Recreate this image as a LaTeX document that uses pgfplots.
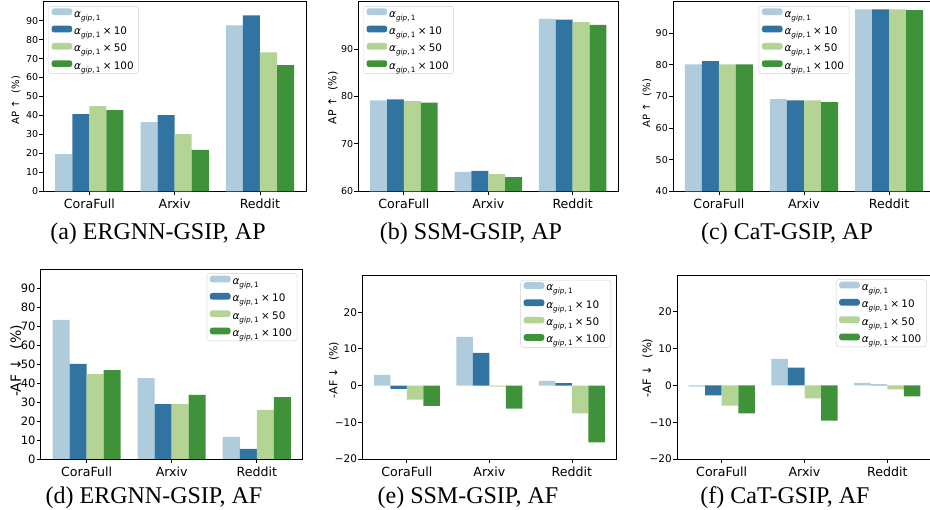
\documentclass[border=0pt]{standalone}
\usepackage{fontspec}
\setmainfont{Liberation Serif}
\newfontfamily\dv{DejaVu Sans}
\usepackage{pgfplots}
\pgfplotsset{compat=1.18}
\definecolor{c1}{HTML}{AECCDC}
\definecolor{c2}{HTML}{3274A1}
\definecolor{c3}{HTML}{B3D495}
\definecolor{c4}{HTML}{40923A}
\newcommand\fs[1]{\fontsize{#1}{#1}\selectfont}
\newcommand\ag{{\itshape α}\raisebox{-0.28em}{\fs{7.3}\itshape gip\upshape,\,1}}
\newcommand\tm{\hspace{0.22em}×\hspace{0.22em}}
\pgfplotsset{
  gsip/.style={
    scale only axis, anchor=north west,
    ybar, bar width=0.2,
    xmin=-0.54, xmax=2.54,
    xtick={0,1,2}, xticklabels={CoraFull,Arxiv,Reddit},
    xticklabel style={font=\dv\fs{12.6}},
    xtick pos=bottom, ytick pos=left, tick align=outside,
    major tick length=4pt,
    every tick/.style={black, line width=0.8pt},
    axis line style={line width=0.8pt, black},
    clip=true,
    legend cell align=left,
    legend image code/.code={\fill[##1] (0pt,-0.55pt) rectangle (20.7pt,6.15pt);},
    legend style={font=\dv\fs{10.4}, draw=black!18, rounded corners=2.5pt,
      inner xsep=3pt, inner ysep=2pt, row sep=6pt,
      nodes={inner xsep=2pt, inner ysep=0pt, text height=7.8pt, text depth=2.5pt}},
  },
  yt/.style={yticklabel style={font=\dv\fs{#1}, inner xsep=1pt}},
  ul/.style={legend style={at={(0,1)}, anchor=north west, xshift=5pt, yshift=-4.5pt}},
  ur/.style={legend style={at={(1,1)}, anchor=north east, xshift=-5.5pt, yshift=-4.5pt}},
  uc/.style={legend style={at={(0.5,1)}, anchor=north, yshift=-4.5pt}},
}
\begin{document}
\begin{tikzpicture}[x=1pt,y=1pt]
\useasboundingbox (0,0) rectangle (930,-510);
% (a)
\begin{axis}[gsip, ul, yt=9.5, at={(43.3pt,-1.7pt)}, width=262.7pt, height=189.6pt,
  ymin=0, ymax=100, ytick={0,10,...,90},
  yticklabels={0,10,20,30,40,50,60,70,80,90}]
\addplot[fill=c1, draw=none, bar shift=-0.3] coordinates {(0,19.6) (1,36.5) (2,87.5)};
\addplot[fill=c2, draw=none, bar shift=-0.1] coordinates {(0,40.7) (1,40.2) (2,92.8)};
\addplot[fill=c3, draw=none, bar shift=0.1] coordinates {(0,44.9) (1,30.2) (2,73.3)};
\addplot[fill=c4, draw=none, bar shift=0.3] coordinates {(0,42.8) (1,21.8) (2,66.5)};
\legend{\ag, \ag\tm10, \ag\tm50, \ag\tm100}
\end{axis}
% (b)
\begin{axis}[gsip, ul, yt=9.5, at={(358.3pt,-1.7pt)}, width=260pt, height=189.6pt,
  ymin=60, ymax=100, ytick={60,70,80,90},
  yticklabels={60,70,80,90}]
\addplot[fill=c1, draw=none, bar shift=-0.3] coordinates {(0,79.2) (1,64.1) (2,96.4)};
\addplot[fill=c2, draw=none, bar shift=-0.1] coordinates {(0,79.4) (1,64.3) (2,96.2)};
\addplot[fill=c3, draw=none, bar shift=0.1] coordinates {(0,79.0) (1,63.6) (2,95.7)};
\addplot[fill=c4, draw=none, bar shift=0.3] coordinates {(0,78.7) (1,63.0) (2,95.1)};
\legend{\ag, \ag\tm10, \ag\tm50, \ag\tm100}
\end{axis}
% (c)
\begin{axis}[gsip, uc, yt=9.5, at={(673pt,-1.7pt)}, width=262pt, height=189.6pt,
  ymin=40, ymax=100, ytick={40,50,...,90},
  yticklabels={40,50,60,70,80,90}]
\addplot[fill=c1, draw=none, bar shift=-0.3] coordinates {(0,80.2) (1,69.2) (2,97.6)};
\addplot[fill=c2, draw=none, bar shift=-0.1] coordinates {(0,81.2) (1,68.8) (2,97.6)};
\addplot[fill=c3, draw=none, bar shift=0.1] coordinates {(0,80.2) (1,68.8) (2,97.6)};
\addplot[fill=c4, draw=none, bar shift=0.3] coordinates {(0,80.2) (1,68.2) (2,97.3)};
\legend{\ag, \ag\tm10, \ag\tm50, \ag\tm100}
\end{axis}
% (d)
\begin{axis}[gsip, ur, yt=11.5, at={(40.7pt,-269pt)}, width=262pt, height=190pt,
  ymin=0, ymax=100, ytick={0,10,...,90},
  yticklabels={0,10,20,30,40,50,60,70,80,90}]
\addplot[fill=c1, draw=none, bar shift=-0.3] coordinates {(0,73.2) (1,42.6) (2,11.6)};
\addplot[fill=c2, draw=none, bar shift=-0.1] coordinates {(0,50.0) (1,28.9) (2,5.3)};
\addplot[fill=c3, draw=none, bar shift=0.1] coordinates {(0,44.7) (1,28.9) (2,25.8)};
\addplot[fill=c4, draw=none, bar shift=0.3] coordinates {(0,46.8) (1,33.7) (2,32.6)};
\legend{\ag, \ag\tm10, \ag\tm50, \ag\tm100}
\end{axis}
% (e)
\begin{axis}[gsip, ur, yt=10.5, at={(362.3pt,-275.5pt)}, width=254.2pt, height=183.5pt,
  ymin=-20, ymax=30, ytick={-20,-10,0,10,20},
  yticklabels={−20,−10,0,10,20}]
\addplot[fill=c1, draw=none, bar shift=-0.3] coordinates {(0,2.9) (1,13.3) (2,1.3)};
\addplot[fill=c2, draw=none, bar shift=-0.1] coordinates {(0,-0.9) (1,8.9) (2,0.7)};
\addplot[fill=c3, draw=none, bar shift=0.1] coordinates {(0,-3.8) (1,-0.3) (2,-7.6)};
\addplot[fill=c4, draw=none, bar shift=0.3] coordinates {(0,-5.5) (1,-6.3) (2,-15.5)};
\legend{\ag, \ag\tm10, \ag\tm50, \ag\tm100}
\end{axis}
% (f)
\begin{axis}[gsip, ur, yt=10.5, at={(677pt,-275pt)}, width=255pt, height=184pt,
  ymin=-20, ymax=30, ytick={-20,-10,0,10,20},
  yticklabels={−20,−10,0,10,20}]
\addplot[fill=c1, draw=none, bar shift=-0.3] coordinates {(0,-0.3) (1,7.2) (2,0.7)};
\addplot[fill=c2, draw=none, bar shift=-0.1] coordinates {(0,-2.7) (1,4.8) (2,0.2)};
\addplot[fill=c3, draw=none, bar shift=0.1] coordinates {(0,-5.5) (1,-3.5) (2,-1.1)};
\addplot[fill=c4, draw=none, bar shift=0.3] coordinates {(0,-7.6) (1,-9.6) (2,-3.0)};
\legend{\ag, \ag\tm10, \ag\tm50, \ag\tm100}
\end{axis}
% y axis labels
\node[rotate=90, font=\dv\fs{10}, inner sep=0pt] at (16,-100) {AP ↑\ \ (\%)};
\node[rotate=90, font=\dv\fs{11}, inner sep=0pt] at (333,-98) {AP ↑\ \ (\%)};
\node[rotate=90, font=\dv\fs{10}, inner sep=0pt] at (647,-103) {AP ↑\ \ (\%)};
\node[rotate=90, font=\dv\fs{14}, inner sep=0pt] at (16.5,-361) {-AF ↓\ \ (\%)};
\node[rotate=90, font=\dv\fs{11}, inner sep=0pt] at (334,-370) {-AF ↓\ \ (\%)};
\node[rotate=90, font=\dv\fs{11.5}, inner sep=0pt] at (647.5,-368) {-AF ↓\ \ (\%)};
% captions
\node[anchor=base, font=\fs{24}] at (158,-239.5) {(a) ERGNN-GSIP, AP};
\node[anchor=base, font=\fs{24}] at (471,-239.5) {(b) SSM-GSIP, AP};
\node[anchor=base, font=\fs{24}] at (787,-239.5) {(c) CaT-GSIP, AP};
\node[anchor=base, font=\fs{24}] at (154,-504) {(d) ERGNN-GSIP, AF};
\node[anchor=base, font=\fs{24}] at (468,-504) {(e) SSM-GSIP, AF};
\node[anchor=base, font=\fs{24}] at (785,-504) {(f) CaT-GSIP, AF};
\end{tikzpicture}
\end{document}
